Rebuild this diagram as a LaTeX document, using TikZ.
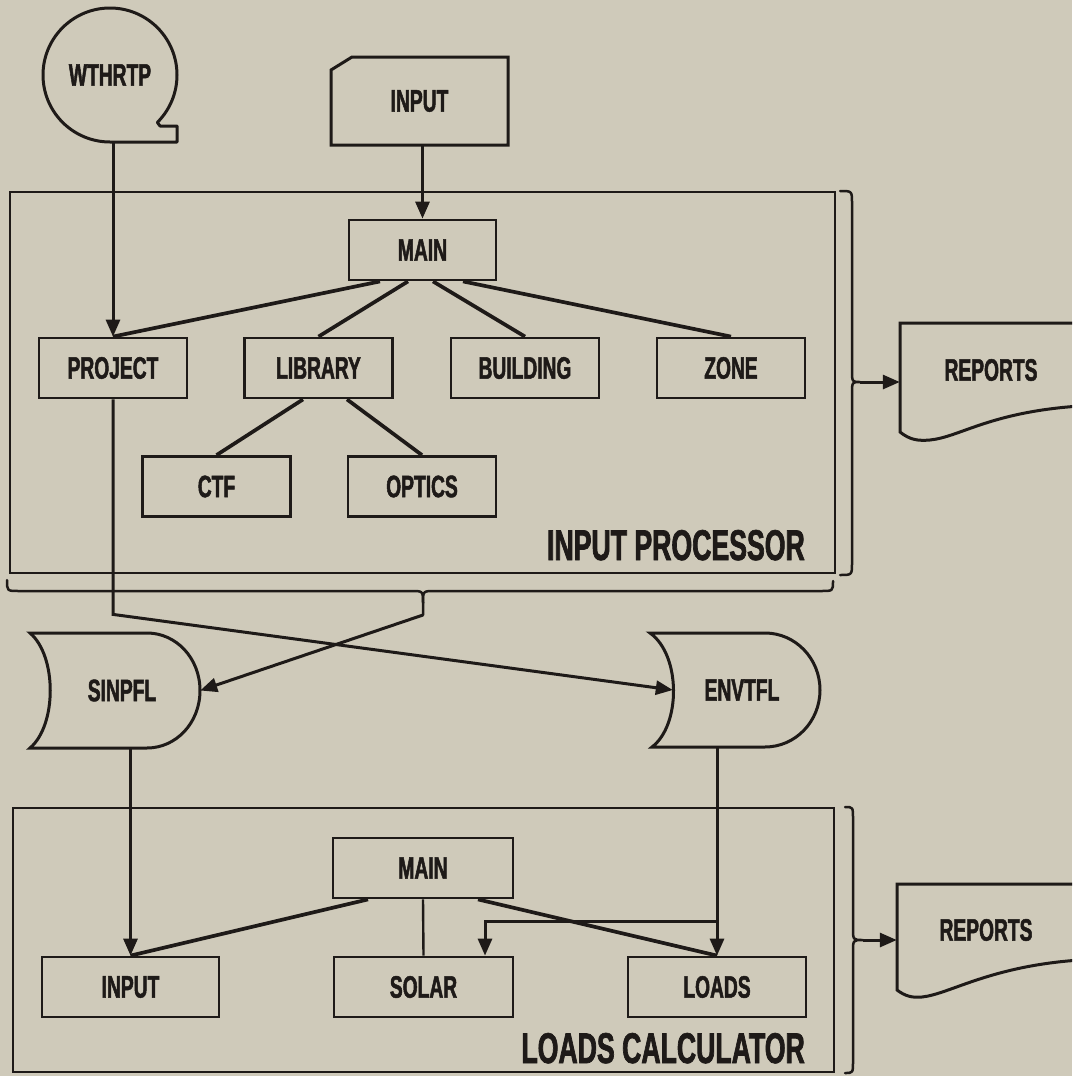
\documentclass[tikz,border=0pt]{standalone}
\usepackage{fontspec}
\setmainfont{Liberation Sans}[FakeStretch=0.62, BoldFeatures={FakeBold=1.6}]
\usetikzlibrary{arrows.meta}
\definecolor{bg}{HTML}{CFCABA}
\definecolor{ink}{HTML}{1E1A18}
\begin{document}
\begin{tikzpicture}[x=1pt,y=-1pt,
  lbl/.style={font=\bfseries\fontsize{31}{31}\selectfont, text=ink},
  big/.style={font=\bfseries\fontsize{43}{43}\selectfont, text=ink},
  box/.style={lbl, draw=ink, line width=2.8pt, minimum width=148pt, minimum height=60pt, inner sep=0pt},
  ghost/.style={lbl, inner sep=0pt},
  ln/.style={draw=ink, line width=3pt},
  thk/.style={draw=ink, line width=3.7pt},
  thn/.style={draw=ink, line width=2.4pt},
  arr/.style={-{Triangle[length=17pt,width=14pt]}},
  frame/.style={draw=ink, line width=2.5pt},
  brc/.style={draw=ink, line width=2.5pt, line join=round, line cap=round},
]
\useasboundingbox (0,0) rectangle (1072,1076);
\fill[bg] (0,0) rectangle (1072,1076);
\clip (0,0) rectangle (1072,1076);

% frames
\draw[frame] (10,192) rectangle (835,573);
\draw[frame] (13,808) rectangle (834,1072);

% WTHRTP tape
\node[ghost, circle, minimum size=134pt] (wthrtp) at (110,75) {WTHRTP};
\draw[ln, line join=round] (110,75) ++(45:67) arc[start angle=45, end angle=-270, radius=67] -- (177,142) -- (177,126) -- (160,126) -- cycle;

% INPUT card
\node[ghost, minimum width=177pt, minimum height=88pt] (inp) at (419.5,101) {INPUT};
\draw[ln] (331,70) -- (352,57) -- (508,57) -- (508,145) -- (331,145) -- cycle;

% input processor
\node[box, minimum width=147pt] (mainA) at (422.5,250) {MAIN};
\node[box] (project) at (113,368) {PROJECT};
\node[box] (library) at (318.5,368) {LIBRARY};
\node[box] (building) at (525,368) {BUILDING};
\node[box] (zone) at (731,368) {ZONE};
\node[box] (ctf) at (216.5,486.5) {CTF};
\node[box] (optics) at (422,486.5) {OPTICS};
\node[big, anchor=base east, inner sep=0pt] (ipt) at (805,560) {INPUT PROCESSOR};

\draw[ln,arr] (inp.south -| mainA.north) -- (mainA.north);
\draw[ln,arr] (project.north |- wthrtp.south) -- (project.north);
\draw[thk] ([xshift=-42.5pt]mainA.south) -- (project.north);
\draw[thk] ([xshift=-14.5pt]mainA.south) -- (library.north);
\draw[thk] ([xshift=10.5pt]mainA.south) -- (building.north);
\draw[thk] ([xshift=40.5pt]mainA.south) -- (zone.north);
\draw[thk] ([xshift=-15.5pt]library.south) -- (ctf.north);
\draw[thk] ([xshift=28.5pt]library.south) -- (optics.north);

% right brace 1 and reports
\draw[brc] (840,191) .. controls (852,191) .. (852,203) -- (852,370) .. controls (852,382) .. (860,382) .. controls (852,382) .. (852,394) -- (852,563) .. controls (852,575) .. (840,575);
\coordinate (b1) at (860,382);
\node[ghost, minimum width=182pt, minimum height=117pt] (rep1) at (991,370) {REPORTS};
\draw[ln] (1080,323) -- (900,323) -- (900,432) .. controls (910,440) and (918,441) .. (930,440) .. controls (960,437) and (990,412) .. (1080,406);
\draw[ln,arr] (b1) -- (rep1.west |- b1);

% bottom brace
\draw[brc] (7,580) .. controls (7,591) .. (19,591) -- (411,591) .. controls (423,591) .. (423,603) -- (423,615);
\draw[brc] (423,603) .. controls (423,591) .. (435,591) -- (821,591) .. controls (833,591) .. (833,581);
\coordinate (b0) at (423,615);

% files
\node[ghost, minimum width=156pt, minimum height=115pt] (sinpfl) at (122,690.5) {SINPFL};
\draw[ln] (30,633) -- (147,633) .. controls (176,633) and (200,658) .. (200,690.5) .. controls (200,723) and (176,748) .. (147,748) -- (30,748) .. controls (57,725) and (57,656) .. (30,633) -- cycle;
\node[ghost, minimum width=184pt, minimum height=114pt] (envtfl) at (742,690) {ENVTFL};
\draw[ln] (650,633) -- (765,633) .. controls (795.4,633) and (820,658.5) .. (820,690) .. controls (820,721.5) and (795.4,747) .. (765,747) -- (652,747) .. controls (681,725) and (681,655) .. (650,633) -- cycle;

\draw[ln,arr] (b0) -- (sinpfl.east);
\draw[ln,arr] (project.south) -- ([yshift=-215pt]project.south) -- ([xshift=23pt]envtfl.west);

% loads calculator
\node[box, minimum width=180pt] (mainB) at (423,868) {MAIN};
\node[box, minimum width=177pt] (inputB) at (130.5,987) {INPUT};
\node[box, minimum width=179pt] (solar) at (423.5,987) {SOLAR};
\node[box, minimum width=178pt] (loads) at (717,987) {LOADS};
\node[big, anchor=base east, inner sep=0pt] (lct) at (805,1063) {LOADS CALCULATOR};

\draw[ln,arr] (inputB.north |- sinpfl.south) -- (inputB.north);
\draw[thk] ([xshift=-55pt]mainB.south) -- (inputB.north);
\draw[thn] (mainB.south) -- (solar.north);
\draw[thk] ([xshift=55pt]mainB.south) -- (loads.north);
\draw[ln,arr] (loads.north |- envtfl.south) -- (loads.north);
\draw[ln,arr] ([yshift=34pt]loads.north) -- ([xshift=61.5pt,yshift=34pt]solar.north) -- ([xshift=61.5pt]solar.north);

% right brace 2 and reports
\draw[brc] (845,807) .. controls (853,807) .. (853,819) -- (853,928) .. controls (853,940) .. (863,940) .. controls (853,940) .. (853,952) -- (853,1061) .. controls (853,1073) .. (845,1073);
\coordinate (b2) at (863,940);
\node[ghost, minimum width=178pt, minimum height=116pt] (rep2) at (986,930) {REPORTS};
\draw[ln] (1080,884) -- (897,884) -- (897,990) .. controls (905,996) and (912,998) .. (922,997) .. controls (950,994) and (990,966) .. (1080,960);
\draw[ln,arr] (b2) -- (rep2.west |- b2);
\end{tikzpicture}
\end{document}
